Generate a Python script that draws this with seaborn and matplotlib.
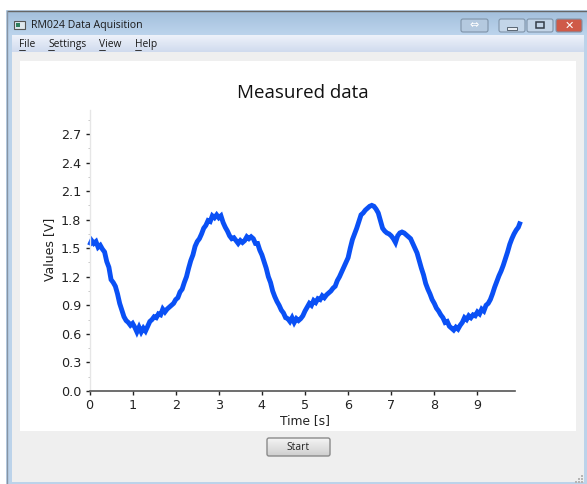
# Import libraries
import numpy as np
import pandas as pd
import matplotlib
matplotlib.use("Agg")
import matplotlib.pyplot as plt
from matplotlib.patches import Rectangle, FancyBboxPatch
import seaborn as sns

# Values, one every 0.05 s, one row per second
volts = [
    1.53, 1.58, 1.55, 1.57, 1.51, 1.53, 1.49, 1.46, 1.36, 1.30, 1.17, 1.14, 1.10, 1.02, 0.92, 0.85, 0.78, 0.74, 0.72, 0.69,
    0.71, 0.67, 0.62, 0.67, 0.62, 0.66, 0.63, 0.68, 0.73, 0.75, 0.78, 0.77, 0.81, 0.80, 0.86, 0.83, 0.86, 0.88, 0.90, 0.92,
    0.96, 0.98, 1.04, 1.07, 1.14, 1.20, 1.29, 1.37, 1.43, 1.52, 1.57, 1.60, 1.65, 1.71, 1.74, 1.79, 1.78, 1.84, 1.82, 1.85,
    1.82, 1.84, 1.77, 1.72, 1.68, 1.63, 1.60, 1.61, 1.58, 1.55, 1.58, 1.56, 1.58, 1.62, 1.60, 1.62, 1.60, 1.55, 1.55, 1.48,
    1.43, 1.36, 1.29, 1.20, 1.14, 1.05, 0.99, 0.94, 0.90, 0.85, 0.82, 0.77, 0.76, 0.73, 0.77, 0.72, 0.76, 0.74, 0.76, 0.79,
    0.84, 0.88, 0.92, 0.90, 0.95, 0.93, 0.97, 0.96, 1.00, 0.98, 1.01, 1.03, 1.05, 1.08, 1.10, 1.16, 1.20, 1.25, 1.30, 1.35,
    1.40, 1.50, 1.59, 1.65, 1.71, 1.78, 1.85, 1.87, 1.90, 1.92, 1.94, 1.95, 1.94, 1.91, 1.87, 1.79, 1.71, 1.68, 1.66, 1.65,
    1.63, 1.60, 1.56, 1.63, 1.66, 1.67, 1.66, 1.64, 1.62, 1.60, 1.55, 1.50, 1.45, 1.37, 1.29, 1.22, 1.13, 1.07, 1.02, 0.96,
    0.92, 0.87, 0.84, 0.80, 0.77, 0.72, 0.73, 0.68, 0.66, 0.64, 0.67, 0.65, 0.69, 0.72, 0.77, 0.75, 0.79, 0.77, 0.80, 0.79,
    0.83, 0.81, 0.86, 0.84, 0.90, 0.92, 0.96, 1.02, 1.09, 1.15, 1.21, 1.26, 1.32, 1.39, 1.46, 1.54, 1.60, 1.65, 1.69, 1.72,
    1.78,
]
x_ticks = [0, 1, 2, 3, 4, 5, 6, 7, 8, 9]
y_ticks = [0.0, 0.3, 0.6, 0.9, 1.2, 1.5, 1.8, 2.1, 2.4, 2.7]
menu_items = ["File", "Settings", "View", "Help"]

df = pd.DataFrame({"time": np.arange(len(volts)) * 0.05, "volts": volts})

sns.set_style("white")
fig = plt.figure(figsize=(5.87, 4.84), dpi=100, facecolor="white")

# Window around the plot, drawn in pixels
win = fig.add_axes([0, 0, 1, 1], zorder=0)
win.axis("off")


def box(x, y, w, h, color, **kw):
    win.add_patch(Rectangle((x, y), w, h, facecolor=color, edgecolor="none", **kw))


def gradient(x, y, w, h, top, bottom, z=2):
    cmap = matplotlib.colors.LinearSegmentedColormap.from_list("g", [top, bottom])
    win.imshow(np.linspace(0, 1, 64)[:, None], cmap=cmap, aspect="auto",
               extent=(x, x + w, y + h, y), zorder=z)


box(6, 10, 581, 474, "#bcd3ea")
gradient(7, 11, 580, 24, "#a3bfdc", "#bcd4ec")
gradient(12, 35, 572, 17, "#eef2fa", "#d0dbee")
box(12, 52, 572, 430, "#efefef", zorder=2)
box(20, 61, 556, 370, "white", zorder=3)
win.plot([7, 587], [10.5, 10.5], color="#666666", lw=1, zorder=4)
win.plot([6.5, 6.5], [11, 484], color="#8794a3", lw=1, zorder=4)

# Title bar
win.add_patch(Rectangle((14, 21), 11, 8, facecolor="#dfe8ee", edgecolor="#555555", lw=0.8, zorder=4))
win.add_patch(Rectangle((16, 23), 4, 4, facecolor="#2f7f5f", edgecolor="none", zorder=5))
win.text(31, 25.5, "RM024 Data Aquisition", fontsize=7.6, family="Open Sans",
         color="#1a1a1a", va="center", zorder=5)
for bx, bw, fc in [(461, 27, "#b4c9df"), (499, 26, "#c3d5e8"), (527, 26, "#c3d5e8"), (556, 26, "#cf5a48")]:
    win.add_patch(FancyBboxPatch((bx, 19), bw, 13, boxstyle="round,pad=0,rounding_size=2",
                                 facecolor=fc, edgecolor="#7f93a8", lw=0.8, zorder=4))
win.text(474.5, 25, "\u21d4", fontsize=8, color="white", ha="center", va="center", zorder=5,
         family="DejaVu Sans")
win.add_patch(Rectangle((507, 27), 10, 2.5, facecolor="#e8edf3", edgecolor="#46525f", lw=0.6, zorder=5))
win.add_patch(Rectangle((536, 22), 8, 6, facecolor="none", edgecolor="#333d48", lw=1.1, zorder=5))
win.text(569, 25.5, "\u2715", fontsize=8, color="white", ha="center", va="center", zorder=5,
         fontweight="bold", family="DejaVu Sans")

# Menu bar
for item, mx in zip(menu_items, [19, 48, 99, 135]):
    win.text(mx, 44.5, item, fontsize=7.4, family="Open Sans", color="#1a1a1a", va="center", zorder=5)
    win.plot([mx, mx + 5.5], [49.5, 49.5], color="#1a1a1a", lw=0.6, zorder=5)

# Start button
gradient(267, 438, 63, 18, "#f4f4f4", "#cfcfcf", z=4)
win.add_patch(FancyBboxPatch((267, 438), 63, 18, boxstyle="round,pad=0,rounding_size=2",
                             facecolor="none", edgecolor="#8a8a8a", lw=1, zorder=5))
win.text(298, 447.5, "Start", fontsize=7.4, family="Open Sans", color="#222222",
         ha="center", va="center", zorder=6)

# Resize grip
for gx, gy in [(581, 475), (578, 478), (581, 478), (575, 481), (578, 481), (581, 481)]:
    box(gx, gy, 1.5, 1.5, "#b5b5b5", zorder=6)

win.set_xlim(0, 587)
win.set_ylim(484, 0)

# Plot: x=0 at 89.5 px, y=0 at 391 px
left = 89.5 / 587
bottom = 1 - 391 / 484
width = (515 - 89.5) / 587
height = (391 - 110) / 484
ax = fig.add_axes([left, bottom, width, height], zorder=5)
ax.patch.set_alpha(0)

sns.lineplot(data=df, x="time", y="volts", color="#0a50f5", lw=3.5, ax=ax,
             clip_on=False, errorbar=None, solid_joinstyle="miter", solid_capstyle="butt")

ax.set_xlim(0, (515 - 89.5) / 43.1)
ax.set_ylim(0, (391 - 110) / 95.2)
ax.set_xticks(x_ticks)
ax.set_yticks(y_ticks)
ax.set_yticks([v + 0.15 for v in y_ticks], minor=True)
ax.set_yticklabels([f"{v:.1f}" for v in y_ticks])
ax.tick_params(axis="both", which="major", direction="out", length=3, width=1,
               labelsize=9.2, colors="#222222", pad=3, bottom=True, left=True)
ax.tick_params(axis="y", which="minor", direction="out", length=1.5, width=0.6,
               color="#bbbbbb", left=True)
ax.set_xlabel("Time [s]", fontsize=8.8, color="#222222")
ax.xaxis.set_label_coords((305 - 89.5) / (515 - 89.5), -0.082)
ax.set_ylabel("Values [V]", fontsize=9, color="#222222")
ax.yaxis.set_label_coords(-0.078, 0.505)
sns.despine(ax=ax)
ax.spines["bottom"].set_color("#555555")
ax.spines["bottom"].set_linewidth(1.2)
ax.spines["left"].set_color("#e6e6e6")
ax.spines["left"].set_linewidth(1)

fig.text(302.5 / 587, 1 - 93.5 / 484, "Measured data", fontsize=13.5, family="Open Sans",
         color="#111111", ha="center", va="center", zorder=6)

fig.savefig("out.png", dpi=100)
